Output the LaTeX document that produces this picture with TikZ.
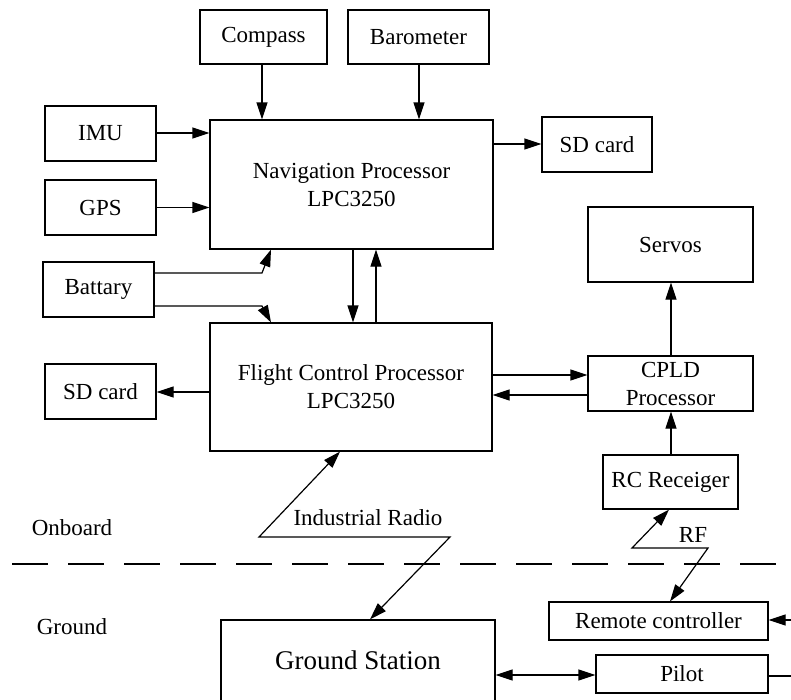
\documentclass[tikz,border=0pt]{standalone}
\usepackage{fontspec}
\setmainfont{Liberation Serif}
\usetikzlibrary{arrows.meta}
\begin{document}
\begin{tikzpicture}[x=1pt,y=-1pt,
  box/.style={draw, line width=1.2pt, inner sep=0pt, align=center, font=\fontsize{23}{28}\selectfont},
  arr/.style={line width=1.2pt, -{Triangle[length=17pt,width=11pt]}},
  darr/.style={line width=1.2pt, {Triangle[length=17pt,width=11pt]}-{Triangle[length=17pt,width=11pt]}},
  ln/.style={line width=1.2pt},
  lbl/.style={font=\fontsize{23}{28}\selectfont, inner sep=0pt},
  sep/.style={line width=1.6pt, dash pattern=on 36pt off 20pt}]
\useasboundingbox (0,0) rectangle (791,699);
\clip (0,0) rectangle (791,699);

% boxes
\node[box, minimum width=127pt, minimum height=54pt] (compass) at (263.5,37) {Compass};
\node[box, minimum width=141pt, minimum height=54pt] (baro) at (418.5,37) {Barometer};
\node[box, minimum width=283pt, minimum height=129pt] (nav) at (351.5,184.5) {Navigation Processor\\LPC3250};
\node[box, minimum width=111pt, minimum height=55pt] (imu) at (100.5,133.5) {IMU};
\node[box, minimum width=111pt, minimum height=55pt] (gps) at (100.5,207.5) {GPS};
\node[box, minimum width=110pt, minimum height=55pt] (sdA) at (597,144.5) {SD card};
\node[box, minimum width=165pt, minimum height=75pt] (servos) at (670.5,244.5) {Servos};
\node[box, minimum width=111pt, minimum height=55pt] (batt) at (98.5,289.5) {Battary};
\node[box, minimum width=282pt, minimum height=128pt] (flight) at (351,387) {Flight Control Processor\\LPC3250};
\node[box, minimum width=111pt, minimum height=55pt] (sdB) at (100.5,391.5) {SD card};
\node[box, minimum width=165pt, minimum height=55pt] (cpld) at (670.5,383.5) {CPLD\\Processor};
\node[box, minimum width=135pt, minimum height=54pt] (rc) at (670.5,482) {RC Receiger};
\node[box, minimum width=219pt, minimum height=38pt] (remote) at (658.5,621) {Remote controller};
\node[box, minimum width=172pt, minimum height=38pt] (pilot) at (682,674) {Pilot};
\node[box, minimum width=274pt, minimum height=85pt] (gs) at (358,662.5) {};
\node[lbl, font=\fontsize{27}{32}\selectfont] (gst) at (358,660) {Ground Station};

% labels
\node[lbl] (onb) at (72,528) {Onboard};
\node[lbl] (gnd) at (72,627) {Ground};
\node[lbl] (radio) at (368,518) {Industrial Radio};
\node[lbl] (rf) at (693,535) {RF};

% separator
\coordinate (sL) at (12,564);
\coordinate (sR) at (791,564);
\draw[sep] (sL) -- (sR);

% helper coordinates
\coordinate (xC) at (262,0);
\coordinate (xB) at (419,0);
\coordinate (yI) at (0,133);
\coordinate (yG) at (0,207.5);
\coordinate (yS) at (0,144);
\coordinate (bA) at (262,273);
\coordinate (bB) at (262,306);
\coordinate (xBt) at (271,0);
\coordinate (xD) at (353,0);
\coordinate (xU) at (376,0);
\coordinate (ySd) at (0,392);
\coordinate (yR1) at (0,375);
\coordinate (yR2) at (0,395);
\coordinate (xM) at (671,0);
\coordinate (r1) at (259,537);
\coordinate (r2) at (450,537);
\coordinate (xRt) at (340,0);
\coordinate (xRb) at (370,0);
\coordinate (f1) at (632,548);
\coordinate (f2) at (708,548);
\coordinate (xFt) at (669,0);
\coordinate (xFb) at (670,0);
\coordinate (yP) at (0,675);
\coordinate (pOut) at (791,676);
\coordinate (rIn) at (791,620);

% connectors
\draw[arr] (compass.south -| xC) -- (nav.north -| xC);
\draw[arr] (baro.south -| xB) -- (nav.north -| xB);
\draw[arr] (imu.east |- yI) -- (nav.west |- yI);
\draw[arr] (gps.east |- yG) -- (nav.west |- yG);
\draw[arr] (nav.east |- yS) -- (sdA.west |- yS);
\draw[arr] (batt.east |- bA) -- (bA) -- (nav.south -| xBt);
\draw[arr] (batt.east |- bB) -- (bB) -- (flight.north -| xBt);
\draw[arr] (nav.south -| xD) -- (flight.north -| xD);
\draw[arr] (flight.north -| xU) -- (nav.south -| xU);
\draw[arr] (flight.west |- ySd) -- (sdB.east |- ySd);
\draw[arr] (flight.east |- yR1) -- (cpld.west |- yR1);
\draw[arr] (cpld.west |- yR2) -- (flight.east |- yR2);
\draw[arr] (cpld.north -| xM) -- (servos.south -| xM);
\draw[arr] (rc.north -| xM) -- (cpld.south -| xM);
\draw[darr] (flight.south -| xRt) -- (r1) -- (r2) -- (gs.north -| xRb);
\draw[darr] (rc.south -| xFt) -- (f1) -- (f2) -- (remote.north -| xFb);
\draw[darr] (gs.east |- yP) -- (pilot.west |- yP);
\draw[ln] (pilot.east |- pOut) -- (pOut);
\draw[arr] (rIn) -- (remote.east |- rIn);
\end{tikzpicture}
\end{document}
